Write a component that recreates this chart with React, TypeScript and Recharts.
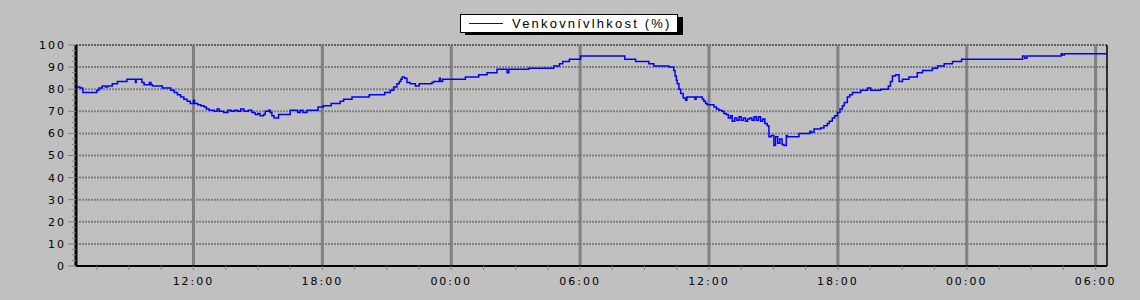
import React from 'react';
import { LineChart, Line, XAxis, YAxis, ReferenceLine, Legend } from 'recharts';

document.body.style.margin = '0';
document.body.style.background = '#c0c0c0';

// time axis in hours counted from midnight of day 1
const START_HOUR = 6.53;
const END_HOUR = 54.53;

const HOURS = [
  6.53, 6.72, 6.85, 7.5, 7.6, 7.75, 7.91, 8.0, 8.22, 8.46,
  8.9, 9.3, 9.33, 9.6, 9.7, 9.95, 10.02, 10.09, 10.55, 10.94,
  11.1, 11.25, 11.4, 11.55, 11.7, 11.85, 12.0, 12.05, 12.2, 12.34,
  12.5, 12.6, 12.73, 12.96, 13.1, 13.2, 13.4, 13.6, 13.75, 13.9,
  14.05, 14.2, 14.35, 14.55, 14.72, 14.87, 15.0, 15.1, 15.26, 15.34,
  15.5, 15.57, 15.65, 15.75, 15.96, 16.5, 16.85, 16.97, 17.1, 17.28,
  17.8, 18.05, 18.41, 18.83, 18.99, 19.38, 20.18, 20.9, 21.16, 21.32,
  21.47, 21.58, 21.65, 21.71, 21.83, 21.94, 22.09, 22.33, 22.51, 23.1,
  23.18, 23.45, 23.5, 23.6, 24.66, 25.28, 25.67, 26.13, 26.6, 26.68,
  27.61, 28.77, 29.04, 29.19, 29.5, 30.02, 32.08, 32.58, 33.2, 33.43,
  34.13, 34.36, 34.42, 34.48, 34.52, 34.6, 34.68, 34.8, 34.91, 34.97,
  35.35, 35.4, 35.69, 35.76, 35.84, 35.92, 36.23, 36.35, 36.46, 36.6,
  36.69, 36.8, 36.9, 37.0, 37.08, 37.2, 37.3, 37.4, 37.5, 37.6,
  37.7, 37.8, 37.9, 38.0, 38.1, 38.2, 38.3, 38.4, 38.5, 38.6,
  38.71, 38.79, 38.9, 39.02, 39.1, 39.2, 39.3, 39.4, 39.49, 39.6,
  39.65, 40.19, 40.7, 40.75, 40.89, 41.2, 41.35, 41.51, 41.6, 41.74,
  41.85, 41.98, 42.1, 42.21, 42.3, 42.44, 42.55, 42.68, 43.06, 43.38,
  43.53, 44.0, 44.35, 44.45, 44.54, 44.69, 44.85, 45.01, 45.31, 45.7,
  45.94, 46.4, 46.64, 46.95, 47.34, 47.76, 50.6, 50.7, 50.8, 52.4,
  52.45, 52.54, 54.53,
];

const HUMIDITY = [
  81, 80.5, 78.5, 79.5, 80.5, 81.5, 81, 81.5, 82.5, 83.5,
  84.5, 83, 84.5, 83, 82, 83, 82, 81.5, 80.5, 79.5,
  78.5, 77.5, 76.5, 75.5, 74.5, 73.5, 75, 73.5, 73, 72.5,
  72, 71, 70.5, 70, 71, 70, 69.5, 70.5, 70, 70.5,
  70, 71, 70, 70.5, 69.5, 68.5, 69, 68, 68.5, 70,
  70.5, 69.5, 68, 67, 68.5, 70.5, 69.5, 70.5, 69.5, 70.5,
  72, 72.5, 73.5, 74.5, 75.5, 76.5, 77.5, 78.5, 79.5, 81,
  82.5, 83.5, 84.5, 85.5, 85, 83, 82.5, 81.5, 82.5, 83,
  83.5, 85, 83.5, 84.5, 85.5, 86.5, 87.5, 89, 87.5, 89,
  89.5, 90.5, 91.5, 92.5, 93.5, 95, 93.5, 92.5, 91.5, 90.5,
  90, 88.5, 86, 84, 82.5, 80, 78, 76, 75, 76.5,
  75.5, 76.5, 75.5, 74.5, 73.5, 73, 72, 71, 70.5, 70,
  69, 68.5, 67, 68, 65.5, 67, 66, 67.5, 66, 67,
  65.5, 66.5, 67, 66, 67.5, 66, 67.5, 65.5, 66.5, 64.5,
  63.5, 58.5, 59, 54.5, 58.5, 55.5, 57.5, 55, 54.5, 59,
  58.5, 60, 61, 60.5, 62, 62.5, 63.5, 64.5, 65.5, 67,
  68, 69.5, 71, 72.5, 74, 76.5, 77.5, 78.5, 79.5, 80.5,
  79.5, 80, 81.5, 83.5, 86, 86.5, 83.5, 84.5, 85.5, 87.5,
  88.5, 89.5, 90.5, 91.5, 92.5, 93.5, 95, 94, 95, 96,
  95.5, 96, 96,
];

const GRID_HOURS = [12, 18, 24, 30, 36, 42, 48, 54];
const X_TICKS = Array.from({ length: 32 }, (_, i) => 7.5 + i * 1.5);
const Y_GRID = [10, 20, 30, 40, 50, 60, 70, 80, 90];
const Y_TICKS = Array.from({ length: 41 }, (_, i) => i * 2.5);

const SERIES_NAME = 'Venkovnívlhkost (%)';

const data = HOURS.map((h, i) => ({ h, v: HUMIDITY[i] }));

const GRID = '#808080';
const FONT = '"DejaVu Sans", sans-serif';

const hourLabel = (h: number) =>
  h % 6 === 0 ? `${String(h % 24).padStart(2, '0')}:00` : '';

function YTick({ x, y, payload }: any) {
  const v = payload.value;
  const major = v % 10 === 0;
  return (
    <g>
      <line x1={x + (major ? 2 : 6)} x2={x + 10} y1={y} y2={y} stroke={GRID} strokeWidth={1} />
      {major && (
        <text
          x={x}
          y={y}
          dy="0.36em"
          textAnchor="end"
          fill="#000"
          fontSize={11}
          fontFamily={FONT}
          letterSpacing={2}
        >
          {v}
        </text>
      )}
    </g>
  );
}

function LegendBox({ payload }: any) {
  const item = payload?.[0];
  return (
    <div style={{ position: 'relative', width: 224, height: 22 }}>
      <div style={{ position: 'absolute', left: 5, top: 3, width: 218, height: 18, background: '#000' }} />
      <div
        style={{
          position: 'absolute',
          left: 0,
          top: 0,
          width: 216,
          height: 17,
          background: '#fff',
          border: '1px solid #000',
        }}
      >
        <svg width={216} height={17} style={{ position: 'absolute', left: 0, top: 0 }}>
          <line x1={8} x2={42} y1={8.5} y2={8.5} stroke={item?.color ?? '#0000ff'} strokeWidth={1} />
          <text
            x={51}
            y={13}
            fontSize={13}
            fontFamily='"Liberation Sans", Arial, sans-serif'
            letterSpacing={2.2}
            fill="#000"
          >
            {item?.value}
          </text>
        </svg>
      </div>
    </div>
  );
}

export default function App() {
  return (
    <div style={{ width: 1140, height: 300, background: '#c0c0c0' }}>
      <LineChart width={1140} height={300} data={data} margin={{ top: 45, right: 33, bottom: 0, left: 0 }}>
        <XAxis
          dataKey="h"
          type="number"
          domain={[START_HOUR, END_HOUR]}
          allowDataOverflow
          ticks={X_TICKS}
          interval={0}
          tickFormatter={hourLabel}
          height={34}
          tickSize={4}
          tickMargin={7}
          axisLine={{ stroke: '#000', strokeWidth: 2 }}
          tickLine={{ stroke: GRID }}
          tick={{ fill: '#000', fontSize: 11, fontFamily: FONT, letterSpacing: 2 }}
        />
        <YAxis
          type="number"
          domain={[0, 100]}
          ticks={Y_TICKS}
          interval={0}
          width={76}
          tickSize={8}
          tickMargin={2}
          tickLine={false}
          axisLine={{ stroke: '#000', strokeWidth: 3 }}
          tick={<YTick />}
        />
        {Y_GRID.map((v) => (
          <ReferenceLine key={`y${v}`} y={v} stroke={GRID} strokeWidth={2} strokeDasharray="2 1" />
        ))}
        <ReferenceLine y={100} stroke="#000" strokeWidth={1} strokeDasharray="2 1" />
        {GRID_HOURS.map((h) => (
          <ReferenceLine key={`x${h}`} x={h} stroke={GRID} strokeWidth={3} />
        ))}
        <ReferenceLine x={END_HOUR} stroke="#000" strokeWidth={1.5} />
        <Legend
          layout="horizontal"
          verticalAlign="middle"
          align="center"
          content={<LegendBox />}
          wrapperStyle={{ left: 460, top: 14, width: 224, height: 22 }}
        />
        <Line
          type="stepAfter"
          dataKey="v"
          name={SERIES_NAME}
          stroke="#0000ff"
          strokeWidth={1.5}
          dot={false}
          activeDot={false}
          isAnimationActive={false}
        />
      </LineChart>
    </div>
  );
}
